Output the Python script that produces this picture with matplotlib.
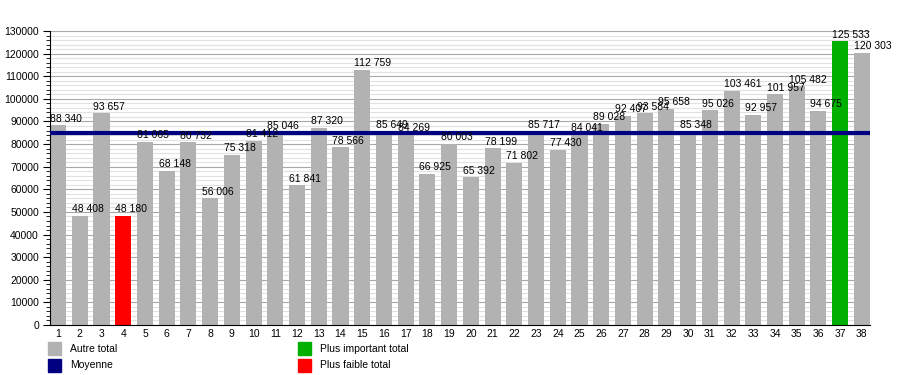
import matplotlib.pyplot as plt
from matplotlib.patches import Rectangle
from matplotlib.ticker import MultipleLocator
import numpy as np

plt.rcParams['font.family'] = ['Liberation Sans', 'DejaVu Sans']

# données
numeros = list(range(1, 39))
totaux = [88340, 48408, 93657, 48180, 81065, 68148, 80732, 56006, 75318, 81412,
          85046, 61841, 87320, 78566, 112759, 85649, 84269, 66925, 80003, 65392,
          78199, 71802, 85717, 77430, 84041, 89028, 92407, 93584, 95658, 85348,
          95026, 103461, 92957, 101957, 105482, 94675, 125533, 120303]
legende = ["Autre total", "Moyenne", "Plus important total", "Plus faible total"]

gris = '#b2b2b2'
bleu = '#000080'
vert = '#00b000'
rouge = '#ff0000'

valeurs = np.array(totaux)
moyenne = valeurs.mean()
couleurs = [gris] * len(valeurs)
couleurs[int(np.argmax(valeurs))] = vert
couleurs[int(np.argmin(valeurs))] = rouge

fig = plt.figure(figsize=(9, 3.75), dpi=100)
ax = fig.add_axes([0.0556, 0.1333, 0.911, 0.784])

ax.bar(numeros, valeurs, width=0.74, color=couleurs, zorder=2)
ax.axhline(moyenne, color=bleu, lw=3, zorder=3)

for n, v in zip(numeros, valeurs):
    txt = f"{v:,}".replace(",", " ")
    ax.text(n - 0.37, v + 700, txt, ha='left', va='bottom', fontsize=7.5, zorder=4)

ax.set_xlim(0.63, 38.37)
ax.set_ylim(0, 130000)
ax.yaxis.set_major_locator(MultipleLocator(10000))
ax.yaxis.set_minor_locator(MultipleLocator(2000))
ax.grid(axis='y', which='major', color='#a8a8a8', lw=0.8, zorder=0)
ax.grid(axis='y', which='minor', color='#e2e2e2', lw=0.8, zorder=0)
ax.set_xticks(numeros)
ax.set_xticklabels([str(n) for n in numeros])
ax.tick_params(axis='x', length=0, labelsize=7.5, pad=3)
ax.tick_params(axis='y', which='major', length=5, labelsize=7.5, pad=3)
ax.tick_params(axis='y', which='minor', length=3)
for s in ['top', 'right']:
    ax.spines[s].set_visible(False)
ax.spines['left'].set_color('black')
ax.spines['bottom'].set_color('black')
ax.set_axisbelow(True)

# légende
positions = [(48, 342), (48, 359), (298, 342), (298, 359)]
coul_leg = [gris, bleu, vert, rouge]
for (x, y), c, t in zip(positions, coul_leg, legende):
    fig.patches.append(Rectangle((x / 900, 1 - (y + 13) / 375), 13 / 900, 13 / 375,
                                 transform=fig.transFigure, color=c))
    fig.text((x + 22) / 900, 1 - (y + 6.5) / 375, t, fontsize=7.5, va='center')

fig.savefig('out.png', dpi=100)
